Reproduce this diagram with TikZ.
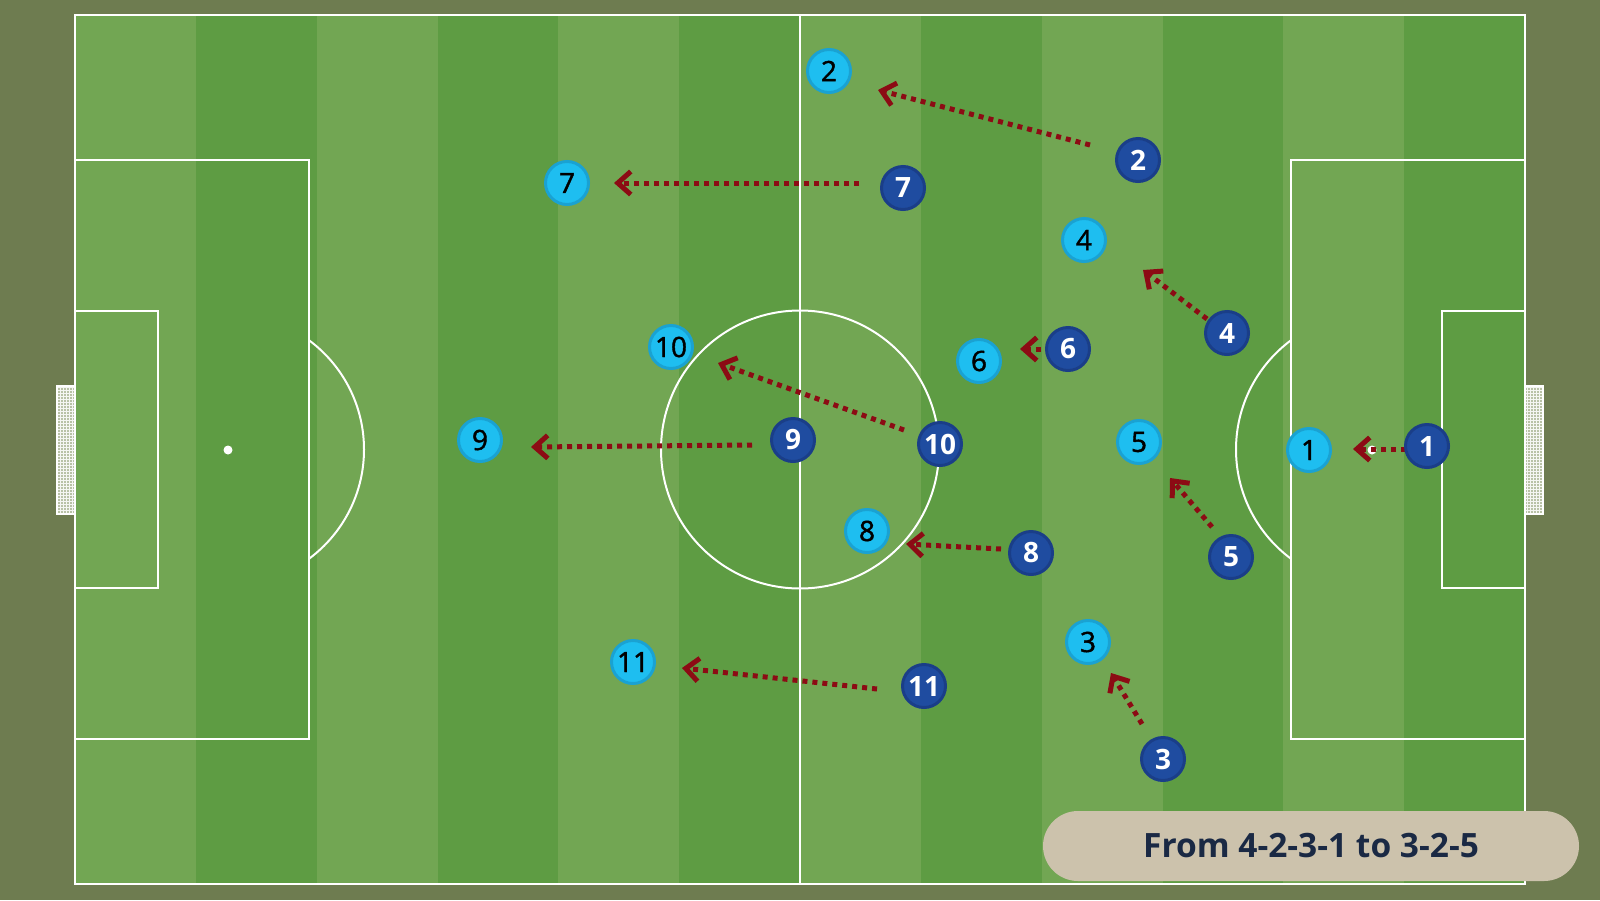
\documentclass[tikz,border=0pt]{standalone}
\usepackage{fontspec}
\setmainfont{Open Sans}
\newfontfamily\semifont[FakeBold=1.5]{Open Sans}
\usetikzlibrary{arrows.meta}
\definecolor{bgc}{HTML}{6E7C50}
\definecolor{stripeA}{HTML}{72A653}
\definecolor{stripeB}{HTML}{5E9C43}
\definecolor{darkfill}{HTML}{1F4CA0}
\definecolor{darkring}{HTML}{1A3E88}
\definecolor{lightfill}{HTML}{1EBEF0}
\definecolor{lightring}{HTML}{1AA2D2}
\definecolor{runred}{HTML}{8C0B14}
\definecolor{labelbg}{HTML}{CCC2AC}
\definecolor{labeltext}{HTML}{1A2944}
\definecolor{netc}{HTML}{B9C2A6}
\begin{document}
\begin{tikzpicture}[x=1pt,y=-1pt,
  pitchline/.style={white, line width=2pt},
  player/.style={circle, line width=3pt, minimum size=43pt, inner sep=0pt},
  oldpos/.style={player, fill=darkfill, draw=darkring, text=white, font=\bfseries\fontsize{28}{28}\selectfont},
  newpos/.style={player, fill=lightfill, draw=lightring, text=black, font=\semifont\fontsize{28}{28}\selectfont},
  run/.style={runred, line width=5pt, dash pattern=on 5pt off 5pt, -{Straight Barb[length=13pt,width=23pt,line width=5pt]}},
  goalnet/.style={fill=netc},
  labelbox/.style={fill=labelbg, rounded corners=35pt, minimum width=536pt, minimum height=70pt, inner sep=0pt, text=labeltext, font=\bfseries\fontsize{33.5}{33.5}\selectfont}
]
% background
\fill[bgc] (0,0) rectangle (1600,900);
\useasboundingbox (0,0) rectangle (1600,900);
% pitch stripes
\fill[stripeA] (75,15) rectangle (1525,884);
\foreach \i in {1,3,5,7,9,11}
  \fill[stripeB] ({75+\i*120.8333},15) rectangle ({75+(\i+1)*120.8333},884);
% goals
\fill[goalnet] (57,386) rectangle (75,514);
\draw[white!85!netc, line width=0.3pt, step=3pt] (57,386) grid (75,514);
\draw[white, line width=1.5pt] (57,386) rectangle (75,514);
\fill[goalnet] (1525,386) rectangle (1543,514);
\draw[white!85!netc, line width=0.3pt, step=3pt] (1525,386) grid (1543,514);
\draw[white, line width=1.5pt] (1525,386) rectangle (1543,514);
% markings
\draw[pitchline] (75,15) rectangle (1525,884);
\draw[pitchline] (800,15) -- (800,884);
\draw[pitchline] (800,449.5) circle (139);
\draw[pitchline] (75,160) rectangle (309,739);
\draw[pitchline] (75,311) rectangle (158,588);
\draw[pitchline] (1525,160) rectangle (1291,739);
\draw[pitchline] (1525,311) rectangle (1442,588);
\fill[white] (228,450) circle (4.5);
\fill[white] (1372,450) circle (4.5);
\begin{scope}
  \clip (310,0) rectangle (600,900);
  \draw[pitchline] (228,449.5) circle (136);
\end{scope}
\begin{scope}
  \clip (1000,0) rectangle (1290,900);
  \draw[pitchline] (1372,449.5) circle (136);
\end{scope}
% run endpoints
\coordinate (r2s) at (1090,145);  \coordinate (r2e) at (878,90);
\coordinate (r7s) at (859,183);   \coordinate (r7e) at (614,183);
\coordinate (r4s) at (1207,319);  \coordinate (r4e) at (1143,270);
\coordinate (r6s) at (1041,349);  \coordinate (r6e) at (1020,349);
\coordinate (r10s) at (904,430);  \coordinate (r10e) at (718,363);
\coordinate (r9s) at (752,445);   \coordinate (r9e) at (531,447);
\coordinate (r1s) at (1406,449);  \coordinate (r1e) at (1353,449);
\coordinate (r8s) at (1001,549);  \coordinate (r8e) at (906,544);
\coordinate (r5s) at (1212,527);  \coordinate (r5e) at (1170,478);
\coordinate (r11s) at (877,689);  \coordinate (r11e) at (682,668);
\coordinate (r3s) at (1142,724);  \coordinate (r3e) at (1111,673);
\foreach \r in {2,7,4,6,10,9,1,8,5,11,3}
  \draw[run] (r\r s) -- (r\r e);
% old positions
\node[oldpos] (o2) at (1138,160) {2};
\node[oldpos] (o7) at (903,188) {7};
\node[oldpos] (o4) at (1227,333) {4};
\node[oldpos] (o6) at (1068,349) {6};
\node[oldpos] (o9) at (793,440) {9};
\node[oldpos] (o10) at (940,444) {10};
\node[oldpos] (o1) at (1427,446) {1};
\node[oldpos] (o8) at (1031,553) {8};
\node[oldpos] (o5) at (1231,557) {5};
\node[oldpos] (o11) at (924,686) {11};
\node[oldpos] (o3) at (1163,759) {3};
% new positions
\node[newpos] (n2) at (829,71) {2};
\node[newpos] (n7) at (567,183) {7};
\node[newpos] (n4) at (1084,240) {4};
\node[newpos] (n10) at (671,347) {10};
\node[newpos] (n6) at (979,361) {6};
\node[newpos] (n9) at (480,440) {9};
\node[newpos] (n5) at (1139,442) {5};
\node[newpos] (n1) at (1309,450) {1};
\node[newpos] (n8) at (867,531) {8};
\node[newpos] (n3) at (1088,642) {3};
\node[newpos] (n11) at (633,662) {11};
% label
\node[labelbox] (title) at (1311,846) {From 4-2-3-1 to 3-2-5};
\end{tikzpicture}
\end{document}
